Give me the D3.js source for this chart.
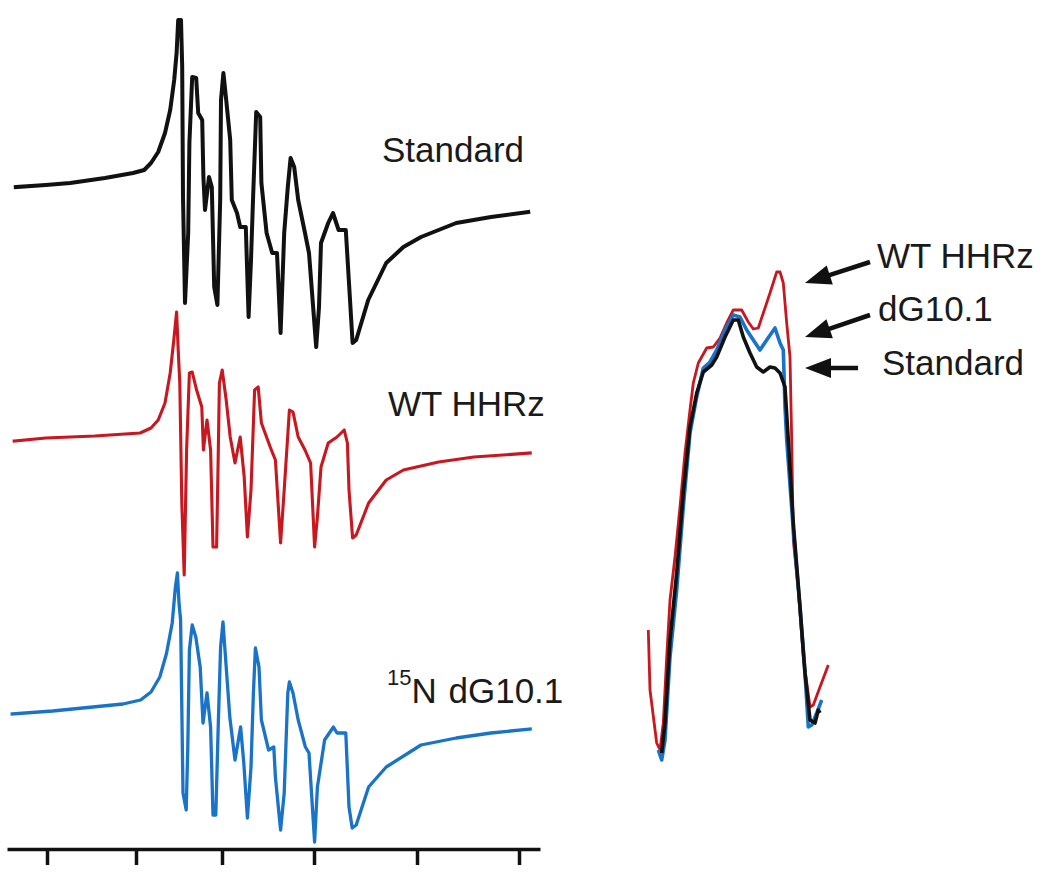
<!DOCTYPE html>
<html>
<head>
<meta charset="utf-8">
<script src="https://cdn.jsdelivr.net/npm/d3@7"></script>
<style>
  html, body { margin: 0; padding: 0; background: #fff; }
  svg { display: block; }
  text { font-family: "Liberation Sans", Arial, sans-serif; fill: #1a1a1a; }
</style>
</head>
<body>
<svg id="chart" width="1050" height="875"></svg>
<script>
// ---------- DATA (field in G, intensity in a.u.) ----------
const seriesNames = ["Standard", "WT HHRz", "15N dG10.1"];
const seriesColors = ["#111111", "#c8171f", "#1873c9"];
const seriesOffsets = [113, -141, -414];

// Full spectra, left panel
const standardField = [3302.2,3309.7,3315.8,3324.5,3331.5,3334.3,3336,3337.8,3339.5,3340.8,3341.8,3342.4,3342.8,3343.5,3343.8,3344,3344.5,3345.3,3345.6,3346.3,3347.3,3347.8,3348.8,3349.1,3349.5,3350.5,3351.2,3351.8,3352.6,3353.3,3353.5,3354.1,3354.8,3355.8,3356.2,3357.5,3358.3,3359.7,3360.4,3361,3361.5,3362.3,3363.3,3363.6,3364.9,3366.3,3367.5,3368.4,3369.3,3370.2,3370.9,3371.8,3372.8,3374.5,3375.5,3377.3,3378,3378.5,3380.3,3381.5,3382.9,3384.7,3385.5,3386.4,3387.3,3390.3,3394.8,3399.1,3403.5,3412.3,3421,3430.3];
const standardSignal = [0,2,4,9,14,17,24,35,54,77,107,134,167,167,120,-10,-116,-46,44,110,109,74,67,10,-23,10,0,-100,-118,-13,87,114,87,47,-13,-26,-40,-40,-130,-73,-13,75,70,4,-46,-66,-66,-146,-46,0,29,20,-13,-46,-66,-160,-120,-56,-36,-26,-43,-43,-96,-156,-153,-113,-76,-60,-50,-36,-30,-25];

const wtField = [3301.8,3309.7,3321.9,3333.3,3336,3337.8,3339.5,3340.8,3341.7,3342.4,3342.8,3343.2,3343.7,3344.3,3344.9,3345.6,3346.3,3347.4,3348.7,3349.1,3350,3350.9,3351.5,3352.4,3352.8,3353.1,3353.8,3354.8,3355.8,3357,3358.3,3359.3,3360.1,3361,3361.9,3362.8,3363.6,3365.8,3367.1,3368.4,3369.3,3370.6,3371.5,3372.8,3374.5,3375.9,3376.9,3377.6,3378.5,3380.3,3382.5,3384.3,3385.1,3385.5,3386.4,3387.3,3390.4,3394.8,3399.1,3407.9,3416.7,3430.8];
const wtSignal = [0,3,5,8,13,21,38,68,101,129,91,58,-62,-134,-9,68,69,51,34,-9,21,-9,-106,-106,-16,58,71,41,4,-22,4,-36,-96,-49,51,54,18,-6,-19,-102,-49,31,29,4,-9,-22,-106,-76,-26,-2,4,11,-2,-49,-97,-94,-62,-39,-29,-21,-16,-12];

const dgField = [3301.3,3311.4,3329,3333.4,3336,3338.2,3339.9,3341.3,3342.1,3342.6,3343,3343.4,3343.7,3344,3344.8,3345.2,3345.6,3346.3,3347.2,3348.3,3349,3350,3350.9,3351.5,3352.2,3352.8,3353.4,3354,3354.8,3355.7,3357,3358.4,3359.2,3360.1,3361,3361.6,3362.1,3363,3363.6,3365.4,3366.7,3367.1,3368.4,3369.3,3370.2,3370.6,3371.5,3372.8,3374.6,3375.5,3376.9,3377.6,3379.4,3381.6,3382.5,3384.7,3385.5,3386.3,3387.3,3390.4,3394.8,3403.5,3412.3,3421,3430.8];
const dgSignal = [0,3,10,14,22,37,61,91,127,141,111,94,7,-79,-96,-33,64,89,77,47,-9,21,-13,-101,-101,-13,67,92,47,-3,-46,-13,-49,-104,-53,21,66,47,-6,-36,-33,-63,-116,-79,21,32,21,-6,-33,-39,-128,-73,-26,-13,-19,-19,-93,-114,-111,-73,-53,-31,-24,-19,-15];

// Expanded region, right panel
const zStandardField = [3342.17,3342.5,3343,3343.67,3344.33,3345,3345.67,3346.33,3347.17,3347.67,3348.5,3349.33,3349.83,3350.33,3351,3351.67,3352.33,3353,3353.5,3354,3354.5,3354.83,3355.33,3356,3356.5,3357,3357.5,3357.83,3358];
const zStandardSignal = [27,57,140,207,287,353,387,408,415,423,443,460,460,443,427,413,408,413,412,407,393,340,257,173,107,60,57,70,67];

const zWtField = [3340.83,3341,3341.67,3342,3342.33,3342.67,3343,3343.5,3344,3344.5,3345,3345.33,3345.83,3346.67,3347.33,3348,3348.67,3349.33,3350.17,3350.83,3351.33,3351.83,3352.33,3353,3353.67,3354,3354.33,3354.67,3355,3355.17,3355.33,3355.83,3356.33,3357,3357.33,3358,3358.83];
const zWtSignal = [150,90,37,30,57,123,180,223,273,327,370,397,417,432,433,442,457,470,470,458,451,452,467,487,508,508,497,457,423,340,240,190,123,73,75,93,115];

const zDgField = [3341.83,3342.17,3342.5,3343,3343.67,3344.33,3345,3345.67,3346.33,3347,3347.67,3348.5,3349.33,3350,3350.67,3351.33,3352,3352.67,3353.5,3354,3354.33,3354.5,3354.67,3355.33,3356,3356.5,3356.83,3357.17,3357.67,3358.17];
const zDgSignal = [30,20,40,123,190,273,347,383,412,418,430,450,465,463,450,440,430,440,452,437,430,373,340,250,173,107,53,55,67,80];

const xTickValues = [3310, 3332.25, 3353.75, 3376.75, 3402.5, 3428];
const rightLabels = ["WT HHRz", "dG10.1", "Standard"];

// ---------- DRAWING ----------
const svg = d3.select("#chart");
svg.append("rect").attr("width", 1050).attr("height", 875).attr("fill", "#fff");

const xL = d3.scaleLinear().domain([3300, 3433.25]).range([7, 540]);
const yL = d3.scaleLinear().domain([-575, 300]).range([875, 0]);

const zip = (xs, ys) => xs.map((x, i) => [x, ys[i]]);

const leftSeries = [
  {field: standardField, signal: standardSignal, color: seriesColors[0], off: seriesOffsets[0], w: 4},
  {field: wtField, signal: wtSignal, color: seriesColors[1], off: seriesOffsets[1], w: 3.1},
  {field: dgField, signal: dgSignal, color: seriesColors[2], off: seriesOffsets[2], w: 3.3}
];

leftSeries.forEach(s => {
  const line = d3.line()
    .x(d => xL(d[0]))
    .y(d => yL(d[1] + s.off));
  svg.append("path")
    .datum(zip(s.field, s.signal))
    .attr("d", line)
    .attr("fill", "none")
    .attr("stroke", s.color)
    .attr("stroke-width", s.w)
    .attr("stroke-linejoin", "round")
    .attr("stroke-linecap", "square");
});

// x axis (unlabelled ticks)
const axis = d3.axisBottom(xL).tickValues(xTickValues).tickSize(16).tickSizeOuter(0).tickFormat("");
const gAxis = svg.append("g").attr("transform", "translate(0,849)").call(axis);
gAxis.select(".domain").attr("stroke", "#111").attr("stroke-width", 3.5);
gAxis.selectAll(".tick line").attr("stroke", "#111").attr("stroke-width", 3.5);

// left labels
svg.append("text").attr("x", 382).attr("y", 162).attr("font-size", 35).text(seriesNames[0]);
svg.append("text").attr("x", 388).attr("y", 416).attr("font-size", 35).text(seriesNames[1]);
const t3 = svg.append("text").attr("x", 387).attr("y", 703).attr("font-size", 35);
t3.append("tspan").attr("font-size", 22).attr("dy", -18).text(seriesNames[2].slice(0, 2));
t3.append("tspan").attr("dy", 18).text(seriesNames[2].slice(2, 3));
t3.append("tspan").attr("dx", 2).text(seriesNames[2].slice(3));

// right panel
const xR = d3.scaleLinear().domain([3340, 3360]).range([640, 840]);
const yR = d3.scaleLinear().domain([0, 500]).range([780, 280]);
const rLine = d3.line().x(d => xR(d[0])).y(d => yR(d[1]));

[
  {f: zWtField, s: zWtSignal, c: seriesColors[1], w: 2.8},
  {f: zDgField, s: zDgSignal, c: seriesColors[2], w: 3.6},
  {f: zStandardField, s: zStandardSignal, c: seriesColors[0], w: 3.6}
].forEach(s => {
  svg.append("path")
    .datum(zip(s.f, s.s))
    .attr("d", rLine)
    .attr("fill", "none")
    .attr("stroke", s.c)
    .attr("stroke-width", s.w)
    .attr("stroke-linejoin", "round");
});

// arrows + labels
function arrow(x1, y1, x2, y2) {
  const dx = x2 - x1, dy = y2 - y1, L = Math.hypot(dx, dy);
  const ux = dx / L, uy = dy / L, hl = 26, hw = 10;
  const bx = x2 - ux * hl, by = y2 - uy * hl;
  svg.append("line").attr("x1", x1).attr("y1", y1).attr("x2", bx + ux * 2).attr("y2", by + uy * 2)
    .attr("stroke", "#111").attr("stroke-width", 4.5);
  svg.append("path")
    .attr("d", `M${x2},${y2}L${bx - uy * hw},${by + ux * hw}L${bx + uy * hw},${by - ux * hw}Z`)
    .attr("fill", "#111");
}
arrow(870, 262, 805, 283);
arrow(870, 315, 805, 337);
arrow(858, 368, 805, 368);

svg.append("text").attr("x", 877).attr("y", 268).attr("font-size", 35).text(rightLabels[0]);
svg.append("text").attr("x", 878).attr("y", 321).attr("font-size", 35).text(rightLabels[1]);
svg.append("text").attr("x", 882).attr("y", 375).attr("font-size", 35).text(rightLabels[2]);
</script>
</body>
</html>
